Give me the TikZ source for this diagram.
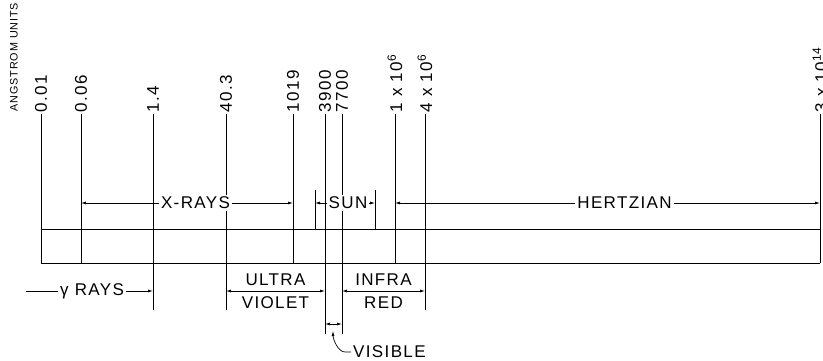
\documentclass[tikz,border=0pt]{standalone}
\usepackage{fontspec}
\setmainfont{Liberation Sans}[LetterSpace=8]
\usetikzlibrary{arrows.meta,positioning}

\begin{document}
\begin{tikzpicture}[
  x=1pt,y=-1pt,
  font=\fontsize{17}{19}\selectfont,
  rule/.style={line width=0.7pt},
  tip/.style={-{Latex[length=5pt,width=3pt]}},
  dim/.style={rule,{Latex[length=5pt,width=3pt]}-{Latex[length=5pt,width=3pt]}},
  wave/.style={rotate=90,anchor=west,inner sep=1.5pt},
  band/.style={fill=white,inner sep=2pt},
  pair/.style={inner sep=2pt}
]
  \useasboundingbox (0,0) rectangle (823,361);
  \coordinate (upper) at (0,203);
  \coordinate (bar) at (0,229);
  \coordinate (lower) at (0,291);
  \coordinate (narrow) at (0,324);

  \foreach \name/\x/\y/\txt in {a/41/263/0.01, b/81/263/0.06, c/153/310/1.4,%
    d/226/310/40.3, e/293/263/1019, f/325/334/3900, g/342/334/7700,%
    h/395/263/{1 x 10\textsuperscript{6}}, i/425/310/{4 x 10\textsuperscript{6}},%
    j/820/263/{3 x 10\textsuperscript{14}}}{
    \coordinate (\name-top) at (\x,114);
    \coordinate (\name-bot) at (\x,\y);
    \draw[rule] (\name-top) -- (\name-bot);
    \node[wave] (\name-lbl) at (\name-top) {\txt};
  }
  \node[wave,font=\fontsize{10.8}{12}\selectfont] (units) at (14,113) {ANGSTROM UNITS};

  \draw[rule] (a-bot |- bar) -- (j-bot |- bar);
  \draw[rule] (a-bot) -- (j-bot);

  \coordinate (sun-west) at (315,190);
  \coordinate (sun-east) at (375,190);
  \draw[rule] (sun-west) -- (sun-west |- bar);
  \draw[rule] (sun-east) -- (sun-east |- bar);

  \draw[dim] (b-bot |- upper) -- node[band,pos=.54] (xrays) {X-RAYS} (e-bot |- upper);
  \draw[dim] (sun-west |- upper) -- node[band,pos=.55] (sun) {SUN} (sun-east |- upper);
  \draw[dim] (h-bot |- upper) -- node[band,pos=.54] (hertz) {HERTZIAN} (j-bot |- upper);

  \coordinate (gamma-start) at (26,291);
  \draw[rule,tip] (gamma-start) -- node[band,pos=.52] (gamma) {γ RAYS} (c-bot |- lower);
  \draw[dim] (d-bot |- lower) -- node[pair,above=3pt] (ultra) {ULTRA}
    node[pair,below=3pt] (violet) {VIOLET} (f-bot |- lower);
  \draw[dim] (g-bot |- lower) -- node[pair,above=3pt] (infra) {INFRA}
    node[pair,below=3pt] (red) {RED} (i-bot |- lower);
  \draw[dim] (f-bot |- narrow) -- (g-bot |- narrow);

  \node[anchor=west,inner sep=2pt] (visible) at (351,352) {VISIBLE};
  \coordinate (visible-tip) at (333,331);
  \draw[rule,tip] (visible.west) -- ++(-6,0)
    .. controls +(-7,0) and +(0,8) .. (visible-tip);
\end{tikzpicture}
\end{document}
